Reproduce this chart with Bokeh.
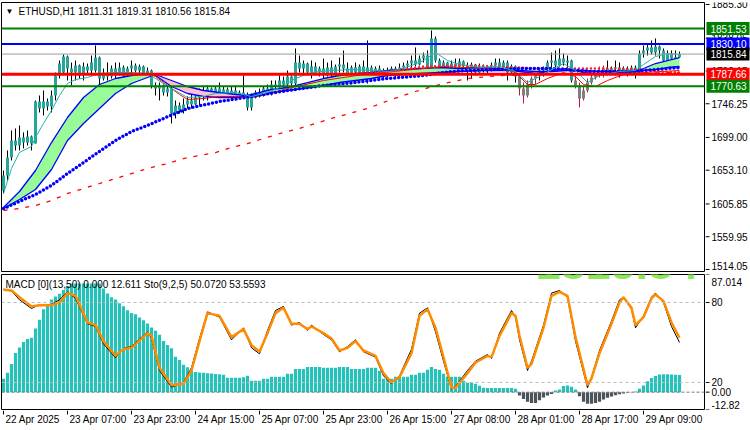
import numpy as np
from bokeh.plotting import figure
from bokeh.layouts import column, row
from bokeh.models import Range1d, Span
from bokeh.core.properties import value
from bokeh.embed import file_html
from bokeh.resources import INLINE

FONT = "Liberation Sans"

chart_title = "ETHUSD,H1  1811.31 1819.31 1810.56 1815.84"
indicator_title = "MACD [0](13,50) 0.000 12.611   Sto(9,2,5) 50.0720 53.5593"
big_price = "1815.84"

time_label_bars = [0, 16, 32, 48, 64, 80, 96, 112, 128, 144, 160]
time_labels = ["22 Apr 2025", "23 Apr 07:00", "23 Apr 23:00", "24 Apr 15:00", "25 Apr 07:00",
               "25 Apr 23:00", "26 Apr 15:00", "27 Apr 08:00", "28 Apr 01:00", "28 Apr 17:00",
               "29 Apr 09:00"]

price_ticks = [1885.30, 1838.05, 1792.15, 1746.25, 1699.00, 1653.10, 1605.85, 1559.95, 1514.05]

level_values = [1851.53, 1830.10, 1815.84, 1787.66, 1770.63]
level_line_colors = ["#008000", "#0000FF", "#9A9A9A", "#FF0000", "#008000"]
level_box_colors = ["#008000", "#0000FF", "#000000", "#FF0000", "#008000"]
level_widths = [2, 2, 1, 3, 2]

opens = [1624.7, 1645.7, 1670.9, 1694.7, 1687.8, 1698.9, 1691.9, 1700.3, 1690.5, 1749.4,
         1739.6, 1749.4, 1742.4, 1757.8, 1785.8, 1790.0, 1812.4, 1795.6, 1790.0, 1799.8,
         1785.8, 1798.4, 1792.8, 1792.8, 1811.0, 1781.6, 1790.0, 1784.4, 1795.6, 1790.0,
         1797.0, 1785.8, 1795.6, 1799.8, 1792.8, 1798.4, 1788.6, 1792.8, 1771.8, 1767.6,
         1771.8, 1762.0, 1767.6, 1732.6, 1743.8, 1736.8, 1745.2, 1750.8, 1745.2, 1755.0,
         1762.0, 1756.4, 1767.6, 1759.2, 1767.6, 1760.6, 1766.2, 1759.2, 1764.8, 1757.8,
         1762.0, 1759.2, 1741.0, 1755.0, 1762.0, 1757.8, 1767.6, 1764.8, 1773.2, 1770.4,
         1778.8, 1773.2, 1784.4, 1774.6, 1804.0, 1795.6, 1802.6, 1790.0, 1798.4, 1790.0,
         1795.6, 1788.6, 1797.0, 1787.2, 1798.4, 1801.2, 1795.6, 1788.6, 1797.0, 1790.0,
         1798.4, 1790.0, 1797.0, 1785.8, 1795.6, 1785.8, 1792.8, 1787.2, 1795.6, 1787.2,
         1797.0, 1799.8, 1802.6, 1806.8, 1801.2, 1809.6, 1813.8, 1797.0, 1837.7, 1806.8,
         1795.6, 1804.0, 1792.8, 1802.6, 1798.4, 1805.4, 1799.8, 1792.8, 1801.2, 1790.0,
         1798.4, 1792.8, 1798.4, 1799.8, 1804.0, 1797.0, 1804.0, 1790.0, 1798.4, 1784.4,
         1767.6, 1757.8, 1773.2, 1781.6, 1785.8, 1792.8, 1795.6, 1804.0, 1806.8, 1799.8,
         1809.6, 1804.0, 1806.8, 1778.8, 1771.8, 1753.6, 1764.8, 1776.0, 1783.0, 1788.6,
         1791.4, 1795.6, 1790.0, 1795.6, 1797.0, 1790.0, 1795.6, 1788.6, 1797.0, 1790.0,
         1816.6, 1820.9, 1825.1, 1818.0, 1826.5, 1820.9, 1806.8, 1816.6, 1809.6, 1811.31]
highs = [1652.7, 1680.8, 1708.8, 1711.6, 1715.8, 1706.0, 1708.8, 1701.7, 1750.8, 1757.8,
         1764.8, 1753.6, 1764.8, 1790.0, 1806.8, 1815.2, 1813.8, 1804.0, 1806.8, 1801.2,
         1804.0, 1802.6, 1813.8, 1827.9, 1812.4, 1795.6, 1804.0, 1799.8, 1804.0, 1804.0,
         1799.8, 1798.4, 1806.8, 1802.6, 1801.2, 1799.8, 1797.0, 1794.2, 1776.0, 1776.0,
         1773.2, 1771.8, 1770.4, 1750.8, 1748.0, 1753.6, 1756.4, 1762.0, 1757.8, 1767.6,
         1770.4, 1771.8, 1769.0, 1770.4, 1776.0, 1770.4, 1769.0, 1770.4, 1771.8, 1764.8,
         1785.8, 1762.0, 1760.6, 1764.8, 1767.6, 1770.4, 1773.2, 1778.8, 1778.8, 1785.8,
         1784.4, 1792.8, 1785.8, 1823.7, 1813.8, 1806.8, 1804.0, 1806.8, 1804.0, 1798.4,
         1809.6, 1804.0, 1806.8, 1801.2, 1811.0, 1820.9, 1804.0, 1799.8, 1804.0, 1801.2,
         1806.8, 1834.9, 1799.8, 1798.4, 1799.8, 1795.6, 1797.0, 1798.4, 1798.4, 1802.6,
         1804.0, 1806.8, 1813.8, 1825.1, 1813.8, 1818.0, 1820.9, 1848.9, 1840.5, 1809.6,
         1806.8, 1805.0, 1806.8, 1809.6, 1809.6, 1806.8, 1804.0, 1804.0, 1802.0, 1802.6,
         1801.2, 1799.8, 1804.0, 1809.6, 1809.6, 1806.8, 1806.8, 1801.2, 1799.8, 1788.6,
         1776.0, 1778.8, 1784.4, 1790.0, 1795.6, 1798.4, 1806.8, 1818.0, 1820.9, 1823.7,
         1816.6, 1813.8, 1808.0, 1785.8, 1776.0, 1770.4, 1781.6, 1787.2, 1792.8, 1798.4,
         1799.8, 1806.8, 1798.4, 1806.8, 1804.0, 1798.4, 1798.4, 1799.8, 1799.8, 1820.9,
         1827.9, 1829.3, 1834.9, 1837.7, 1827.9, 1823.7, 1820.9, 1820.9, 1820.9, 1819.31]
lows = [1620.5, 1638.7, 1666.7, 1680.8, 1680.8, 1683.6, 1687.8, 1680.8, 1690.5, 1734.0,
        1729.8, 1736.8, 1734.0, 1750.8, 1781.6, 1788.6, 1778.8, 1771.8, 1778.8, 1781.6,
        1778.8, 1787.2, 1785.8, 1790.0, 1764.8, 1778.8, 1778.8, 1781.6, 1781.6, 1785.8,
        1781.6, 1784.4, 1781.6, 1790.0, 1787.2, 1784.4, 1785.8, 1767.6, 1757.8, 1750.8,
        1757.8, 1756.4, 1718.6, 1725.6, 1732.6, 1732.6, 1739.6, 1739.6, 1743.8, 1743.8,
        1750.8, 1750.8, 1755.0, 1756.4, 1755.0, 1756.4, 1755.0, 1753.6, 1750.8, 1755.0,
        1755.0, 1736.8, 1736.8, 1753.6, 1755.0, 1756.4, 1759.2, 1757.8, 1764.8, 1762.0,
        1767.6, 1764.8, 1770.4, 1767.6, 1790.0, 1785.8, 1785.8, 1781.6, 1785.8, 1784.4,
        1778.8, 1784.4, 1781.6, 1785.8, 1790.0, 1790.0, 1781.6, 1787.2, 1785.8, 1789.0,
        1785.8, 1774.6, 1778.8, 1784.4, 1778.8, 1781.6, 1783.0, 1785.0, 1783.0, 1784.4,
        1790.0, 1795.6, 1792.8, 1798.4, 1799.8, 1804.0, 1795.6, 1794.2, 1804.0, 1792.8,
        1788.6, 1790.0, 1791.0, 1795.6, 1797.0, 1797.0, 1778.8, 1781.6, 1785.8, 1788.6,
        1790.0, 1787.2, 1791.4, 1797.0, 1792.8, 1795.6, 1778.8, 1787.2, 1776.0, 1757.8,
        1746.6, 1755.0, 1767.6, 1773.2, 1778.8, 1784.4, 1790.0, 1795.6, 1795.6, 1798.4,
        1799.8, 1795.6, 1776.0, 1767.6, 1741.0, 1750.8, 1762.0, 1773.2, 1780.2, 1783.0,
        1783.0, 1785.8, 1787.2, 1785.8, 1783.0, 1787.2, 1784.4, 1787.2, 1781.6, 1789.0,
        1811.0, 1813.8, 1815.2, 1813.8, 1809.6, 1804.0, 1799.8, 1804.0, 1806.8, 1810.56]
closes = [1645.7, 1670.9, 1694.7, 1687.8, 1698.9, 1691.9, 1700.3, 1690.5, 1749.4, 1739.6,
          1749.4, 1742.4, 1757.8, 1785.8, 1802.6, 1812.4, 1795.6, 1790.0, 1799.8, 1785.8,
          1798.4, 1792.8, 1804.0, 1811.0, 1781.6, 1790.0, 1784.4, 1795.6, 1790.0, 1797.0,
          1785.8, 1795.6, 1799.8, 1792.8, 1798.4, 1788.6, 1792.8, 1771.8, 1767.6, 1771.8,
          1762.0, 1767.6, 1732.6, 1743.8, 1736.8, 1745.2, 1750.8, 1745.2, 1755.0, 1762.0,
          1756.4, 1767.6, 1759.2, 1767.6, 1760.6, 1766.2, 1759.2, 1764.8, 1757.8, 1762.0,
          1759.2, 1741.0, 1755.0, 1762.0, 1757.8, 1767.6, 1764.8, 1773.2, 1770.4, 1778.8,
          1773.2, 1784.4, 1774.6, 1804.0, 1795.6, 1802.6, 1790.0, 1798.4, 1790.0, 1795.6,
          1788.6, 1797.0, 1787.2, 1798.4, 1801.2, 1795.6, 1788.6, 1797.0, 1790.0, 1798.4,
          1790.0, 1797.0, 1785.8, 1795.6, 1785.8, 1792.8, 1787.2, 1795.6, 1787.2, 1797.0,
          1799.8, 1802.6, 1806.8, 1801.2, 1809.6, 1813.8, 1797.0, 1837.7, 1806.8, 1795.6,
          1804.0, 1792.8, 1802.6, 1798.4, 1805.4, 1799.8, 1792.8, 1801.2, 1790.0, 1798.4,
          1792.8, 1798.4, 1799.8, 1804.0, 1797.0, 1804.0, 1790.0, 1798.4, 1784.4, 1767.6,
          1757.8, 1773.2, 1781.6, 1785.8, 1792.8, 1795.6, 1804.0, 1806.8, 1799.8, 1809.6,
          1804.0, 1806.8, 1778.8, 1771.8, 1753.6, 1764.8, 1776.0, 1783.0, 1788.6, 1791.4,
          1795.6, 1790.0, 1795.6, 1797.0, 1790.0, 1795.6, 1788.6, 1797.0, 1790.0, 1816.6,
          1820.9, 1825.1, 1818.0, 1826.5, 1820.9, 1806.8, 1816.6, 1809.6, 1811.31, 1815.84]
gray_bars = [129, 130, 131, 132, 133, 143, 144, 145, 146, 147, 148, 149, 150]

# moving averages (bar index, price)
fast_bars = [0, 2, 4, 7, 8, 10, 12, 14, 16, 18, 21, 24, 28, 32, 36, 38, 42, 46, 50, 53, 58, 62,
             66, 69, 73, 77, 82, 87, 92, 97, 102, 105, 108, 111, 114, 119, 124, 128, 131, 134,
             138, 140, 143, 146, 149, 154, 158, 160, 163, 166, 169]
fast_ma = [1620.5, 1655.5, 1678.0, 1686.4, 1698.9, 1718.6, 1736.8, 1757.8, 1774.6, 1780.2,
           1783.0, 1788.6, 1790.0, 1790.0, 1788.6, 1781.6, 1767.6, 1755.0, 1756.4, 1760.6,
           1762.0, 1756.4, 1762.0, 1769.0, 1781.6, 1790.0, 1792.8, 1794.2, 1792.8, 1791.4,
           1799.8, 1806.8, 1818.0, 1806.8, 1801.2, 1797.0, 1798.4, 1791.4, 1776.0, 1784.4,
           1797.0, 1802.6, 1792.8, 1776.0, 1785.8, 1791.4, 1792.8, 1801.2, 1812.4, 1816.6,
           1815.2]

cloud_bars = [0, 4, 8, 12, 16, 20, 24, 28, 32, 36, 38, 42, 46, 50, 54, 58, 61, 63, 67, 71, 75,
              80, 84, 88, 92, 96, 100, 104, 109, 114, 119, 124, 129, 133, 137, 141, 145, 149,
              153, 157, 160, 163, 166, 169]
cloud_fast = [1600.9, 1623.3, 1652.7, 1691.9, 1727.0, 1755.0, 1773.2, 1781.6, 1785.8, 1788.6,
              1785.8, 1770.4, 1760.6, 1756.4, 1755.0, 1755.0, 1757.8, 1760.6, 1766.2, 1769.0,
              1774.6, 1781.6, 1785.8, 1788.6, 1790.0, 1792.8, 1794.2, 1795.6, 1797.0, 1795.6,
              1797.0, 1795.6, 1791.4, 1788.6, 1792.8, 1795.6, 1790.0, 1787.2, 1790.0, 1791.4,
              1795.6, 1802.6, 1806.8, 1811.0]
cloud_slow = [1599.5, 1612.1, 1626.1, 1654.1, 1694.7, 1718.6, 1739.6, 1760.6, 1774.6, 1783.0,
              1787.2, 1778.8, 1770.4, 1764.8, 1762.0, 1759.2, 1757.8, 1757.8, 1762.0, 1764.8,
              1767.6, 1771.8, 1776.0, 1778.8, 1781.6, 1785.8, 1787.2, 1788.6, 1790.0, 1791.4,
              1792.8, 1792.8, 1792.8, 1791.4, 1791.4, 1792.8, 1792.8, 1791.4, 1791.4, 1791.4,
              1792.8, 1794.2, 1797.0, 1798.4]

dots_bars = [0, 4, 8, 12, 16, 20, 24, 28, 32, 36, 40, 46, 54, 62, 71, 80, 88, 96, 105, 110,
             115, 122, 130, 137, 147, 157, 163, 169]
dots_ma = [1599.5, 1609.3, 1619.1, 1631.7, 1648.5, 1663.9, 1679.4, 1694.7, 1707.4, 1715.8,
           1725.6, 1739.6, 1749.4, 1756.4, 1764.8, 1771.8, 1776.0, 1781.6, 1785.8, 1790.0,
           1792.8, 1794.2, 1795.6, 1795.6, 1791.4, 1791.4, 1794.2, 1797.0]

slow_bars = [0, 4, 8, 12, 16, 20, 24, 28, 32, 36, 41, 45, 49, 53, 57, 61, 65, 70, 74, 82, 91,
             97, 103, 109, 116, 124, 135, 150, 169]
slow_ma = [1596.7, 1599.5, 1603.7, 1610.7, 1620.5, 1627.3, 1634.5, 1641.5, 1648.5, 1655.5,
           1662.5, 1669.5, 1673.7, 1677.9, 1684.9, 1690.5, 1697.5, 1706.0, 1711.6, 1725.6,
           1739.6, 1752.2, 1763.4, 1773.2, 1781.6, 1785.8, 1787.2, 1788.6, 1790.0]

red_bars = [36, 38, 40, 42, 44, 46, 50, 54, 58, 62, 66, 71, 80, 90, 100, 110, 120, 127, 129,
            131, 133, 136, 140, 143, 145, 148, 151, 155, 160, 169]
red_ma = [1788.6, 1784.4, 1776.0, 1767.6, 1759.2, 1752.2, 1753.6, 1756.4, 1756.4, 1755.0,
          1759.2, 1767.6, 1778.8, 1787.2, 1792.8, 1798.4, 1795.6, 1792.8, 1784.4, 1773.2,
          1773.2, 1781.6, 1790.0, 1784.4, 1773.2, 1770.4, 1778.8, 1787.2, 1790.0, 1792.8]

reddot_bars = [86, 96, 105, 114, 124, 133, 143, 153, 159, 164, 169]
reddot_ma = [1787.2, 1791.4, 1798.4, 1799.8, 1798.4, 1795.6, 1795.6, 1795.6, 1794.2, 1791.4,
             1790.0]

# stochastic (bar index, value)
sto_bars = [0, 2, 4, 7, 9, 12, 14, 16, 18, 21, 23, 25, 28, 30, 32, 36, 37, 39, 42, 45, 47, 49,
            51, 54, 57, 60, 62, 64, 66, 68, 70, 72, 74, 76, 77, 80, 82, 84, 86, 88, 90, 93, 95,
            97, 99, 102, 104, 106, 108, 110, 112, 113, 116, 118, 121, 122, 124, 127, 128, 129,
            131, 132, 135, 137, 139, 141, 143, 146, 147, 149, 152, 154, 155, 157, 158, 160,
            162, 163, 165, 167, 169]
sto_signal = [89.5, 89, 84, 77, 78, 78, 80, 87, 85, 65, 63, 51, 40, 45, 46, 57, 55, 31, 18, 19,
              29, 51, 72, 70, 54, 60, 48, 43, 57, 72, 76, 64, 64, 60, 62, 57, 53, 44, 46, 51,
              44, 40, 27, 20, 24, 42, 70, 75, 61, 39, 16, 16, 27, 35, 40, 39, 55, 72, 70, 55,
              31, 34, 61, 85, 88, 85, 54, 18, 23, 42, 64, 80, 84, 76, 63, 69, 83, 86, 81, 65,
              53.5593]
sto_main = [90, 88.5, 82, 75.5, 78.5, 78.5, 82, 88, 83, 64, 62, 49, 38.5, 45.5, 47, 58, 53, 29,
            16.5, 20, 31, 53, 73, 69, 52, 61, 46, 41.5, 59, 74, 77, 63, 65, 59, 63, 56, 52, 43,
            47, 52, 43, 39, 25, 19, 25, 45, 72, 76, 58, 36, 15, 17, 29, 36, 41, 38, 57, 74, 69,
            52, 29, 36, 63, 87, 89, 84, 51, 16, 24, 44, 66, 82, 84, 75, 61, 70, 84, 87, 80, 62,
            50.072]

macd_hist = [9.9, 14.3, 20.9, 29.0, 33.0, 37.1, 39.3, 40.2, 47.0, 53.5,
             61.3, 65.0, 68.5, 70.8, 72.8, 75.5, 78.5, 80.4, 80.4, 80.4,
             80.4, 80.4, 80.4, 80.4, 80.4, 76.7, 73.0, 70.1, 68.6, 65.7,
             63.5, 60.5, 58.6, 57.6, 55.3, 53.2, 50.8, 47.8, 45.5, 42.5,
             37.8, 34.9, 32.5, 26.1, 23.8, 20.2, 18.5, 15.8, 15.0, 14.5,
             14.3, 14.0, 13.8, 13.5, 13.2, 12.8, 10.6, 10.6, 10.6, 10.6,
             11.0, 12.1, 8.4, 8.4, 8.4, 9.9, 9.9, 11.4, 11.4, 11.4,
             11.4, 13.6, 13.6, 17.2, 17.2, 17.2, 18.7, 18.7, 18.7, 18.7,
             18.0, 18.0, 18.0, 18.0, 18.7, 18.7, 18.7, 17.2, 17.2, 17.2,
             17.2, 18.0, 18.0, 18.0, 15.8, 9.9, 9.9, 9.9, 11.4, 11.4,
             11.4, 11.4, 12.8, 12.8, 14.3, 14.3, 16.5, 18.7, 17.2, 16.5,
             13.6, 11.4, 11.4, 11.4, 11.4, 8.4, 7.0, 7.0, 6.2, 4.8,
             3.3, 3.0, 3.0, 3.0, 3.0, 3.0, 3.0, 3.0, 2.5, -2.5,
             -5.0, -7.0, -8.0, -8.0, -6.0, -4.0, -2.5, -1.3, 1.2, 2.0,
             4.5, 5.0, 4.0, 2.0, -3.0, -7.0, -8.5, -8.5, -8.0, -7.0,
             -5.5, -4.2, -3.2, -2.3, -1.6, -1.0, -0.5, -0.2, 0.5, 2.5,
             5.0, 8.0, 10.5, 12.0, 13.0, 13.2, 13.2, 13.0, 12.9, 12.611]

macd_low, macd_high = -12.82, 87.014
sto_levels = [80, 20]
sub_labels = ["87.014", "80", "20", "0.00", "-12.82"]

TXT = dict(text_font=value(FONT), text_font_size="10px")


def bare(fig):
    fig.grid.visible = False
    fig.outline_line_color = None
    fig.background_fill_color = "white"
    fig.border_fill_color = "white"
    return fig


# ---------------- main price panel ----------------
XR = Range1d(-0.5, 175.25)
YR = Range1d(1511.2, 1888.1)
p1 = bare(figure(width=705, height=272, output_backend="svg", toolbar_location=None,
                 x_range=XR, y_range=YR, x_axis_location=None, y_axis_location=None,
                 min_border_left=1, min_border_right=1, min_border_top=2, min_border_bottom=1))
p1.outline_line_color = "black"

n = len(opens)
bars = np.arange(n)
o = np.array(opens); c = np.array(closes)
top = np.maximum(o, c); bot = np.minimum(o, c)
top = np.where(top - bot < 1.2, bot + 1.2, top)
body_cols = ["#7F7F7F" if i in gray_bars else "#26A69A" for i in range(n)]
wick_cols = ["#C8143C" if i in gray_bars else "#000000" for i in range(n)]

p1.segment(bars, lows, bars, highs, line_color=wick_cols, line_width=1)
p1.vbar(x=bars, top=top, bottom=bot, width=0.75, fill_color=body_cols, line_color=None)

cf = np.array(cloud_fast); cs = np.array(cloud_slow)
upper = np.maximum(cf, cs)
p1.varea(x=cloud_bars, y1=cs, y2=upper, fill_color="#98FB98", fill_alpha=1)
p1.varea(x=cloud_bars, y1=cf, y2=upper, fill_color="#FFC0CB", fill_alpha=1)
p1.line(cloud_bars, cloud_slow, line_color="#0000FF", line_width=1.3)
p1.line(cloud_bars, cloud_fast, line_color="#0000FF", line_width=1.3)

p1.line(slow_bars, slow_ma, line_color="#FF0000", line_width=1.3, line_dash="4 7")
p1.line(red_bars, red_ma, line_color="#FF0000", line_width=1)
p1.line(reddot_bars, reddot_ma, line_color="#FF2020", line_width=2.5, line_dash="0 4",
        line_cap="round")
p1.line(dots_bars, dots_ma, line_color="#0000FF", line_width=3.5, line_dash="0 4",
        line_cap="round")
p1.line(fast_bars, fast_ma, line_color="#20B2AA", line_width=1)

for val, col, w in zip(level_values, level_line_colors, level_widths):
    p1.add_layout(Span(location=val, dimension="width", line_color=col, line_width=w))

p1.text(x=[XR.start], y=[YR.end], text=["\u25BC"], x_offset=4, y_offset=9,
        text_baseline="middle", text_font=value(FONT), text_font_size="8px")
p1.text(x=[XR.start], y=[YR.end], text=[chart_title], x_offset=17, y_offset=9,
        text_baseline="middle", **TXT)

# right price scale (its own narrow strip sharing the price range)
r1 = bare(figure(width=45, height=272, output_backend="svg", toolbar_location=None,
                 x_range=Range1d(0, 45), y_range=YR, x_axis_location=None,
                 y_axis_location=None, min_border_left=0, min_border_right=0,
                 min_border_top=2, min_border_bottom=1))
px_price = (YR.end - YR.start) / 269.0
r1.segment(x0=[0] * len(price_ticks), y0=price_ticks, x1=[4] * len(price_ticks), y1=price_ticks,
           line_color="black", line_width=1)
tick_text_y = [v if v > YR.start + 8 * px_price else v + 3 * px_price for v in price_ticks]
r1.text(x=[6] * len(price_ticks), y=tick_text_y, text=[f"{v:.2f}" for v in price_ticks],
        text_baseline="middle", text_color="black", **TXT)
r1.quad(left=[1] * len(level_values), right=[44] * len(level_values),
        top=[v + 6.5 * px_price for v in level_values],
        bottom=[v - 6.5 * px_price for v in level_values],
        fill_color=level_box_colors, line_color=None)
r1.text(x=[5] * len(level_values), y=level_values, text=[f"{v:.2f}" for v in level_values],
        text_baseline="middle", text_color="white", **TXT)

# ---------------- indicator panel ----------------
s_lo, s_hi = -0.25, 100.98
SR = Range1d(s_lo, s_hi)
MR = Range1d(macd_low, macd_high)
p2 = bare(figure(width=705, height=138, output_backend="svg", toolbar_location=None,
                 x_range=XR, y_range=SR, x_axis_location=None, y_axis_location=None,
                 min_border_left=1, min_border_right=1, min_border_top=2, min_border_bottom=1))
p2.outline_line_color = "black"
p2.extra_y_ranges = {"macd": MR}
px_sto = (s_hi - s_lo) / 135.0

# big current-price readout, mostly hidden above the window top
p2.text(x=[133], y=[s_hi + 11 * px_sto], text=[big_price], text_baseline="alphabetic",
        text_font=value(FONT), text_font_size="45px", text_font_style="bold",
        text_color="#8EE65A")

hist_cols = ["#26C1B9" if v >= 0 else "#4B535C" for v in macd_hist]
p2.vbar(x=bars, top=macd_hist, bottom=0, width=0.8, fill_color=hist_cols, line_color=None,
        y_range_name="macd")

for lv in sto_levels:
    p2.add_layout(Span(location=lv, dimension="width", line_color="#BDBDBD",
                       line_width=1, line_dash="3 3"))
p2.add_layout(Span(location=0, dimension="width", line_color="#7A7A7A", line_width=1,
                   line_dash="3 2", y_range_name="macd"))

p2.line(sto_bars, sto_main, line_color="black", line_width=1)
p2.line(sto_bars, sto_signal, line_color="#FF8C00", line_width=2.5)

p2.text(x=[XR.start], y=[s_hi], text=[indicator_title], x_offset=4, y_offset=10,
        text_baseline="middle", **TXT)


def sto_to_macd(v):
    return macd_low + (v - s_lo) * (macd_high - macd_low) / (s_hi - s_lo)


px_macd = (macd_high - macd_low) / 135.0
sub_tick_pos = [macd_high, sto_to_macd(80), sto_to_macd(20), 0, macd_low]
sub_text_pos = [macd_high - 3 * px_macd, sto_to_macd(80), sto_to_macd(20), 0,
                macd_low + 1 * px_macd]
sub_baselines = ["top", "middle", "middle", "middle", "bottom"]

r2 = bare(figure(width=45, height=138, output_backend="svg", toolbar_location=None,
                 x_range=Range1d(0, 45), y_range=MR, x_axis_location=None,
                 y_axis_location=None, min_border_left=0, min_border_right=0,
                 min_border_top=2, min_border_bottom=1))
r2.segment(x0=[0] * 5, y0=sub_tick_pos, x1=[4] * 5, y1=sub_tick_pos, line_color="black")
r2.text(x=[6] * 5, y=sub_text_pos, text=sub_labels, text_baseline=sub_baselines,
        text_color="black", **TXT)

# ---------------- time scale ----------------
b = bare(figure(width=750, height=20, output_backend="svg", toolbar_location=None,
                x_range=XR, y_range=Range1d(0, 20), x_axis_location=None,
                y_axis_location=None, min_border_left=1, min_border_right=46,
                min_border_top=0, min_border_bottom=0))
b.segment(x0=time_label_bars, y0=[20] * len(time_label_bars), x1=time_label_bars,
          y1=[16] * len(time_label_bars), line_color="black")
b.text(x=time_label_bars, y=[11] * len(time_label_bars), text=time_labels, x_offset=2,
       text_baseline="middle", text_align="left", text_color="black", **TXT)

layout = column(row(p1, r1, spacing=0), row(p2, r2, spacing=0), b, spacing=0)
open("out.html", "w").write(file_html(layout, INLINE))
